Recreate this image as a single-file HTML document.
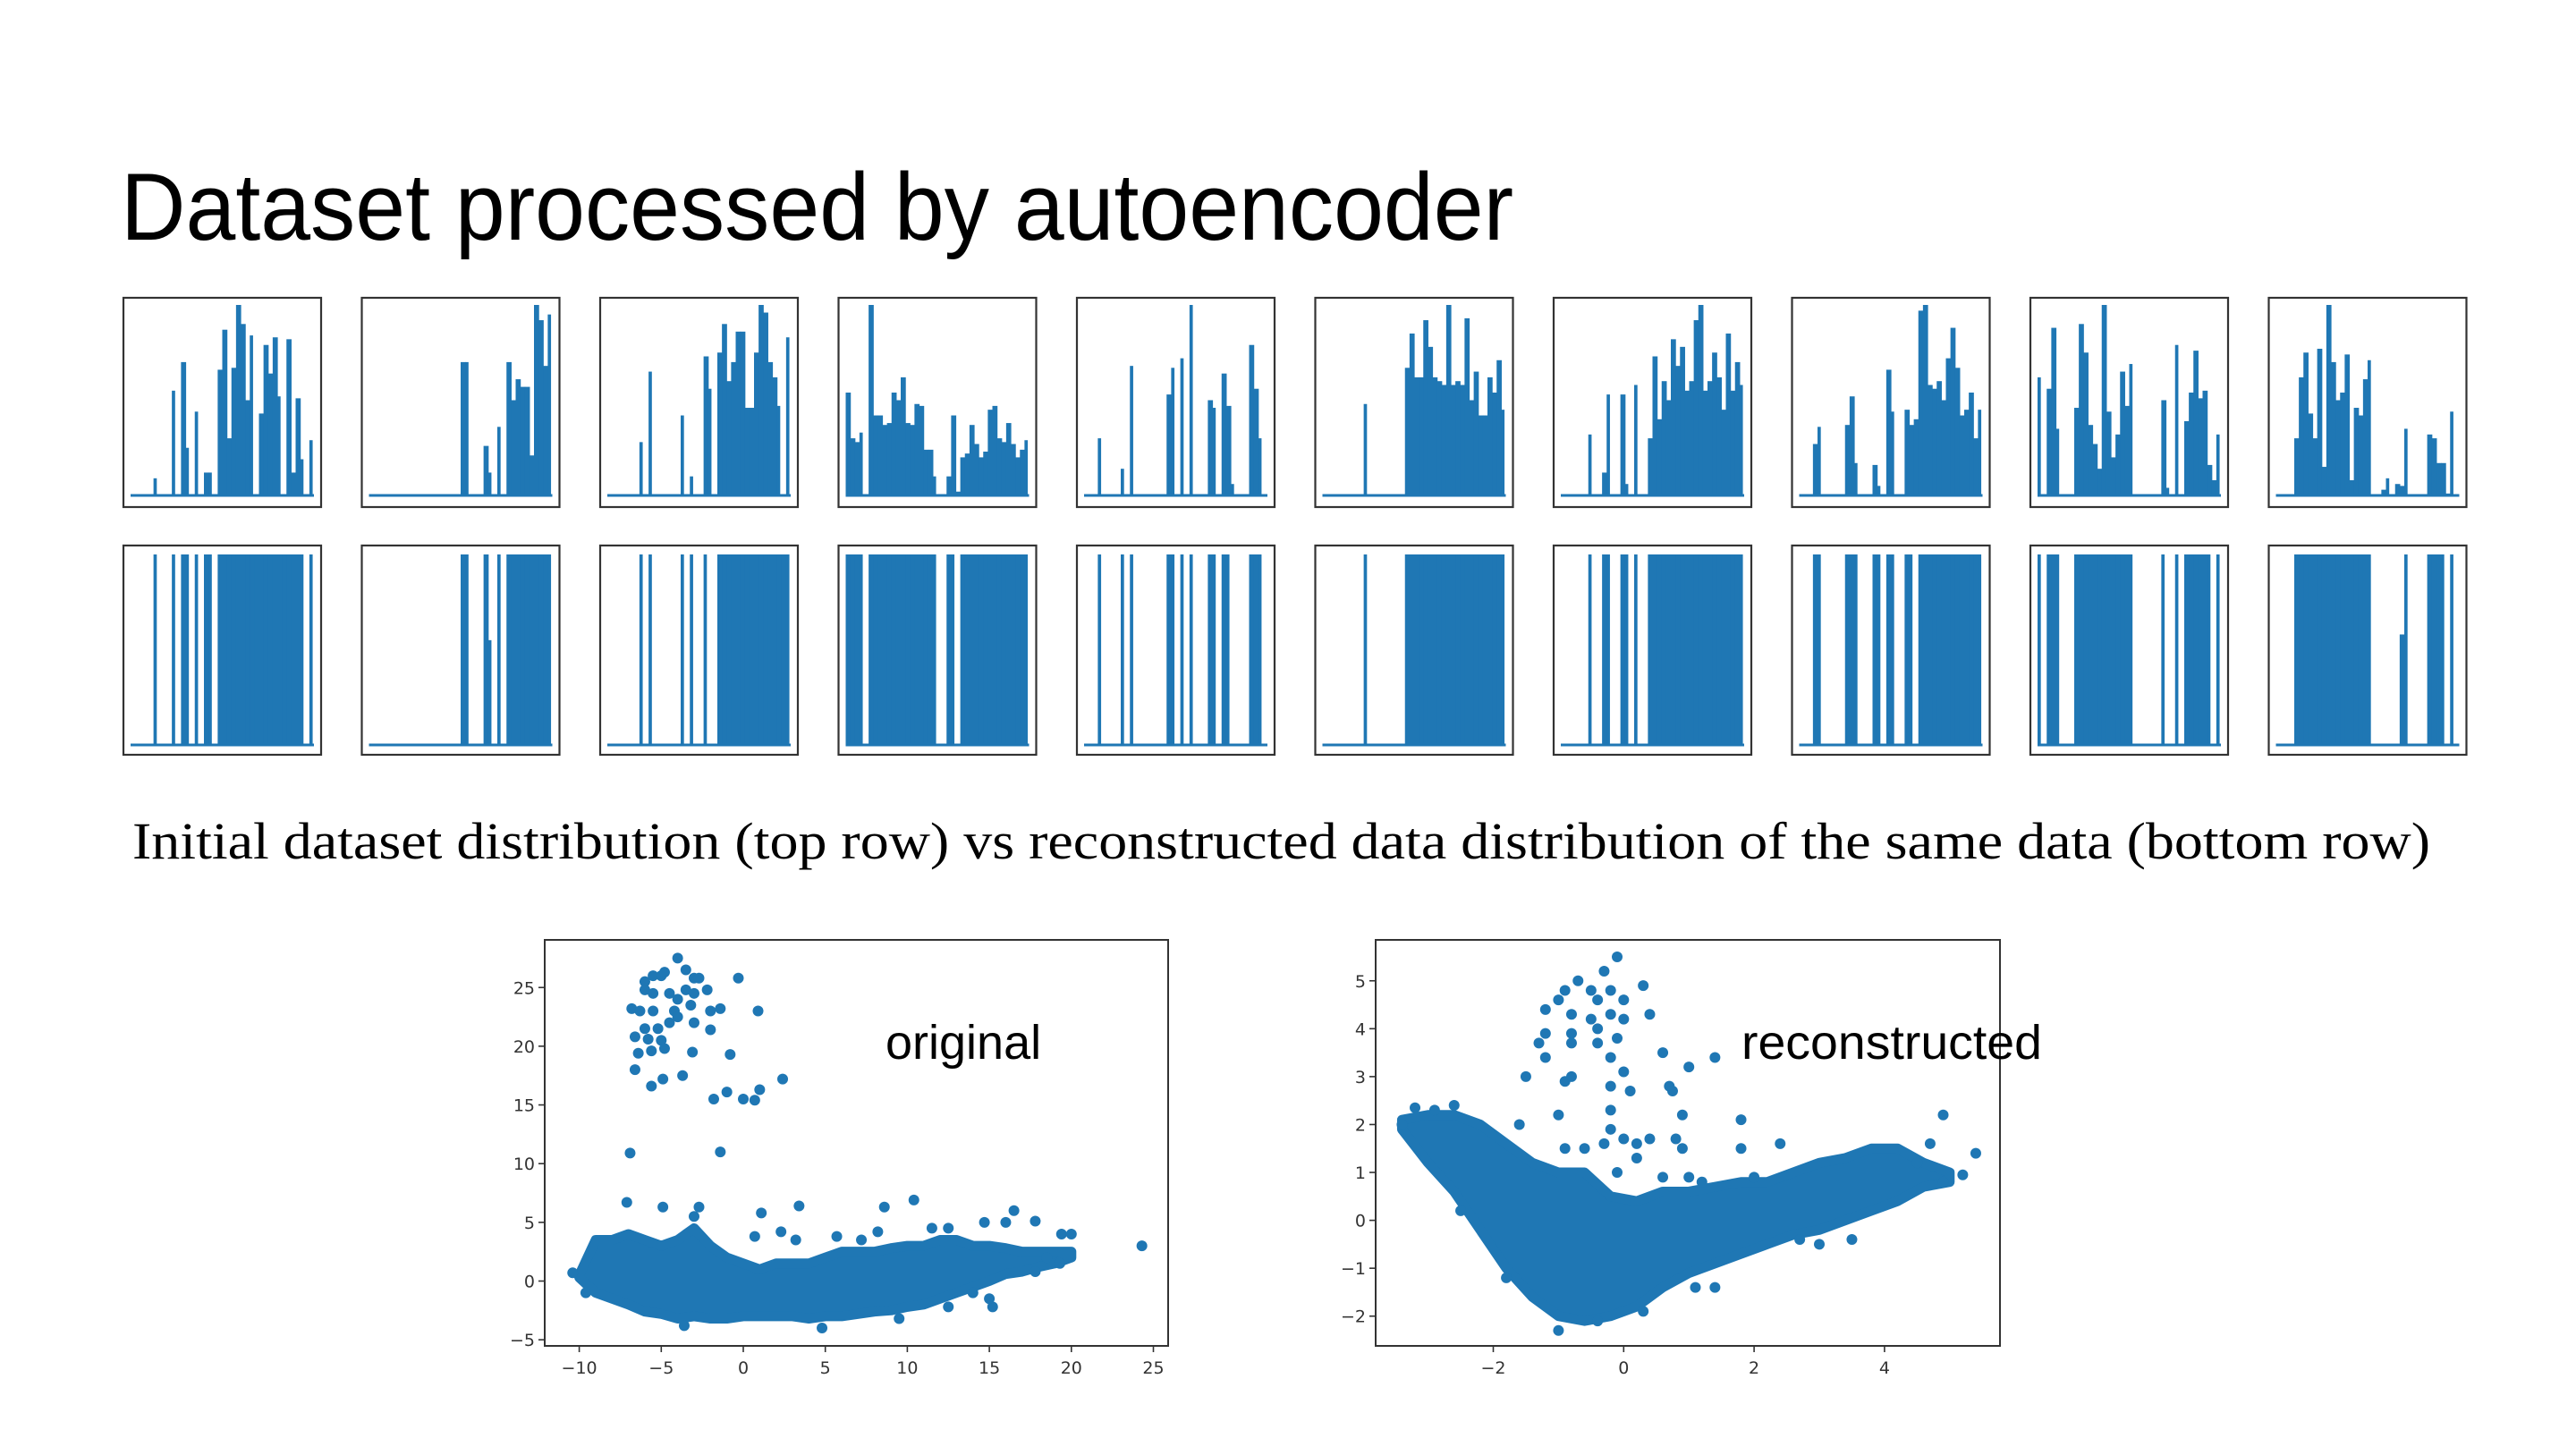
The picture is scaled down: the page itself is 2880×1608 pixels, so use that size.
<!DOCTYPE html>
<html><head><meta charset="utf-8"><style>
html,body{margin:0;padding:0;background:#fff;}
svg{display:block;}
</style></head>
<body>
<svg id="root" width="2880" height="1608" viewBox="0 0 2880 1608" xmlns="http://www.w3.org/2000/svg">
<text x="135" y="268" font-family="Liberation Sans, Arial, sans-serif" font-size="107" textLength="1557" lengthAdjust="spacingAndGlyphs" fill="#000">Dataset processed by autoencoder</text>
<g id="panels"></g>
<text x="148" y="960" font-family="Liberation Serif, 'Times New Roman', serif" font-size="58" textLength="2569" lengthAdjust="spacingAndGlyphs" fill="#000">Initial dataset distribution (top row) vs reconstructed data distribution of the same data (bottom row)</text>
<g id="scatterL"></g>
<g id="scatterR"></g>
<text x="990" y="1184" font-family="Liberation Sans, Arial, sans-serif" font-size="54" fill="#000">original</text>
<text x="1947" y="1184" font-family="Liberation Sans, Arial, sans-serif" font-size="54" textLength="336" lengthAdjust="spacingAndGlyphs" fill="#000">reconstructed</text>
</svg>
<script>
// ---------- top row data (40 bins, relative height) ----------
const top1=[0,0,0,0,0,0.09,0,0,0,0.55,0,0.7,0.25,0,0.44,0,0.12,0.12,0,0.66,0.87,0.3,0.67,1.0,0.9,0.5,0.84,0,0.43,0.79,0.64,0.83,0.52,0,0.82,0.12,0.51,0.19,0,0.29];
const top2=[0,0,0,0,0,0,0,0,0,0,0,0,0,0,0,0,0,0,0,0,0.7,0.7,0,0,0,0.26,0.12,0,0.36,0,0.7,0.5,0.61,0.57,0.57,0.21,1.0,0.92,0.68,0.95];
const top3=[0,0,0,0,0,0,0,0.28,0,0.65,0,0,0,0,0,0,0.42,0,0.1,0,0,0.73,0.56,0,0.75,0.9,0.6,0.7,0.86,0.86,0.46,0.46,0.75,1.0,0.96,0.7,0.62,0.47,0,0.83];
const top4=[0.54,0.3,0.28,0.33,0,1.0,0.42,0.42,0.37,0.38,0.54,0.5,0.62,0.38,0.37,0.48,0.47,0.24,0.24,0.1,0,0,0.1,0.42,0.02,0.2,0.22,0.37,0.27,0.2,0.23,0.45,0.47,0.3,0.28,0.38,0.27,0.2,0.24,0.29];
const top5=[0,0,0,0.3,0,0,0,0,0.14,0,0.68,0,0,0,0,0,0,0,0.53,0.67,0,0.72,0,1.0,0,0,0,0.5,0.46,0,0.64,0.47,0.06,0,0,0,0.79,0.56,0.3,0];
const top6=[0,0,0,0,0,0,0,0,0,0.48,0,0,0,0,0,0,0,0,0.67,0.85,0.62,0.62,0.92,0.78,0.62,0.6,0.58,1.0,0.58,0.6,0.58,0.93,0.5,0.65,0.42,0.42,0.62,0.54,0.71,0.45];
const top7=[0,0,0,0,0,0,0.32,0,0,0.12,0.53,0,0,0.53,0.06,0,0.58,0,0,0.3,0.73,0.4,0.6,0.5,0.82,0.68,0.78,0.55,0.6,0.92,1.0,0.55,0.6,0.75,0.62,0.45,0.85,0.55,0.7,0.58];
const top8=[0,0,0,0.27,0.36,0,0,0,0,0,0.37,0.52,0.17,0,0,0,0.16,0.05,0,0.66,0.44,0,0,0.45,0.37,0.4,0.97,1.0,0.58,0.56,0.6,0.5,0.72,0.88,0.67,0.42,0.45,0.54,0.3,0.45];
const top9=[0.62,0,0.56,0.88,0.35,0,0,0,0.46,0.9,0.75,0.37,0.27,0.14,1.0,0.44,0.2,0.32,0.65,0.47,0.69,0,0,0,0,0,0,0.5,0.04,0,0.79,0,0.39,0.54,0.76,0.51,0.55,0.16,0.08,0.32];
const top10=[0,0,0,0,0.3,0.62,0.75,0.43,0.3,0.77,0.15,1.0,0.7,0.5,0.54,0.74,0.08,0.46,0.42,0.61,0.71,0,0,0.03,0.09,0,0.06,0.05,0.35,0,0,0,0,0.32,0.3,0.17,0.17,0.01,0.44,0];
// ---------- bottom row data (reconstructed, 40 bins) ----------
const bot1=[0,0,0,0,0,1,0,0,0,1,0,1,1,0,1,0,1,1,0,1,1,1,1,1,1,1,1,1,1,1,1,1,1,1,1,1,1,1,0,1];
const bot2=[0,0,0,0,0,0,0,0,0,0,0,0,0,0,0,0,0,0,0,0,1,1,0,0,0,1,0.55,0,1,0,1,1,1,1,1,1,1,1,1,1];
const bot3=[0,0,0,0,0,0,0,1,0,1,0,0,0,0,0,0,1,0,1,0,0,1,0,0,1,1,1,1,1,1,1,1,1,1,1,1,1,1,1,1];
const bot4=[1,1,1,1,0,1,1,1,1,1,1,1,1,1,1,1,1,1,1,1,0,0,1,1,0,1,1,1,1,1,1,1,1,1,1,1,1,1,1,1];
const bot5=[0,0,0,1,0,0,0,0,1,0,1,0,0,0,0,0,0,0,1,1,0,1,0,1,0,0,0,1,1,0,1,1,0,0,0,0,1,1,1,0];
const bot6=[0,0,0,0,0,0,0,0,0,1,0,0,0,0,0,0,0,0,1,1,1,1,1,1,1,1,1,1,1,1,1,1,1,1,1,1,1,1,1,1];
const bot7=[0,0,0,0,0,0,1,0,0,1,1,0,0,1,1,0,1,0,0,1,1,1,1,1,1,1,1,1,1,1,1,1,1,1,1,1,1,1,1,1];
const bot8=[0,0,0,1,1,0,0,0,0,0,1,1,1,0,0,0,1,1,0,1,1,0,0,1,1,0,1,1,1,1,1,1,1,1,1,1,1,1,1,1];
const bot9=[1,0,1,1,1,0,0,0,1,1,1,1,1,1,1,1,1,1,1,1,1,0,0,0,0,0,0,1,0,0,1,0,1,1,1,1,1,1,0,1];
const bot10=[0,0,0,0,1,1,1,1,1,1,1,1,1,1,1,1,1,1,1,1,1,0,0,0,0,0,0,0.58,1,0,0,0,0,1,1,1,1,0,1,0];

const topRows=[top1,top2,top3,top4,top5,top6,top7,top8,top9,top10];
const botRows=[bot1,bot2,bot3,bot4,bot5,bot6,bot7,bot8,bot9,bot10];

// ---------- scatter: original ----------
const origXTicks=[-10,-5,0,5,10,15,20,25];
const origYTicks=[-5,0,5,10,15,20,25];
const origBandX=[-10,-9,-8,-7,-6,-5,-4,-3,-2,-1,0,1,2,3,4,5,6,7,8,9,10,11,12,13,14,15,16,17,18,19,20];
const origBandLo=[0.3,-1,-1.5,-2,-2.6,-2.8,-3.2,-3,-3.2,-3.2,-3,-3,-3,-3,-3.2,-3,-3,-2.8,-2.6,-2.5,-2.2,-2,-1.5,-1,-0.5,0,0.6,0.8,1.2,1.5,2];
const origBandHi=[0.5,3.5,3.5,4,3.5,3,3.5,4.5,3,2,1.5,1,1.5,1.5,1.5,2,2.5,2.5,2.5,2.8,3,3,3.5,3.5,3,3,2.8,2.5,2.5,2.5,2.5];
const origPtsX=[-4,-3.5,-5.5,-5,-4.8,-6,-3,-2.7,-0.3,-6,-5.5,-4.5,-4,-3.5,-3,-2.2,-3.2,-4.2,-6.8,-6.3,-5.5,-2,-1.4,0.9,-4,-4.5,-3,-6,-5.2,-6.6,-5.8,-5,-2,-6.4,-5.6,-4.8,-3.1,-0.8,-6.6,-3.7,-4.9,-5.6,2.4,-1.8,-1,0,0.7,1,-6.9,-1.4,-7.1,-4.9,-2.7,-3,1.1,3.4,8.6,10.4,16.5,14.7,16,17.8,19.4,20,24.3,15.2,11.5,12.5,8.2,5.7,7.2,0.7,2.3,3.2,-10.4,-9.6,9.5,4.8,-3.6,19.3,17.8,18.5,15,14,12.5];
const origPtsY=[27.5,26.5,26,26,26.3,25.5,25.8,25.8,25.8,24.8,24.5,24.5,24,24.8,24.5,24.8,23.5,23,23.2,23,23,23,23.2,23,22.5,22,22,21.5,21.5,20.8,20.6,20.5,21.4,19.4,19.6,19.8,19.5,19.3,18,17.5,17.2,16.6,17.2,15.5,16.1,15.5,15.4,16.3,10.9,11,6.7,6.3,6.3,5.5,5.8,6.4,6.3,6.9,6,5,5,5.1,4,4,3,-2.2,4.5,4.5,4.2,3.8,3.5,3.8,4.2,3.5,0.7,-1,-3.2,-4,-3.8,1.5,0.8,2,-1.5,-1,-2.2];

// ---------- scatter: reconstructed ----------
const recXTicks=[-2,0,2,4];
const recYTicks=[-2,-1,0,1,2,3,4,5];
const recBandX=[-3.4,-3,-2.6,-2.2,-1.8,-1.4,-1,-0.6,-0.2,0.2,0.6,1,1.4,1.8,2.2,2.6,3,3.4,3.8,4.2,4.6,5.0];
const recBandLo=[1.9,1.2,0.6,-0.2,-1,-1.6,-2,-2.1,-2,-1.8,-1.4,-1.1,-0.9,-0.7,-0.5,-0.3,-0.2,0,0.2,0.4,0.7,0.8];
const recBandHi=[2.1,2.2,2.2,2,1.6,1.2,1,1,0.5,0.4,0.6,0.6,0.7,0.8,0.8,1,1.2,1.3,1.5,1.5,1.2,1.0];
const recPtsX=[-0.1,-0.3,-0.7,-0.9,-0.5,-0.2,0.3,-1,-0.4,0,-1.2,-0.8,-0.5,-0.2,0,0.4,-0.4,-1.2,-1.3,-1.2,-0.8,-0.8,-0.4,-0.1,-0.2,0.6,1.4,1,0,-1.5,-0.9,-0.8,-0.2,0.1,0.7,0.75,-0.2,-1.0,0.9,1.8,4.9,-1.6,-0.2,-0.3,0,0.2,0.4,0.8,0.9,1.8,2.4,-0.9,-0.6,0.2,-0.1,0.6,1,1.2,2,5.4,5.2,4.9,4.7,4.5,-2.5,3.5,-1,-0.4,0.3,1.1,1.4,-1.8,2.7,3,-3.4,-3.2,-2.9,-2.6];
const recPtsY=[5.5,5.2,5,4.8,4.8,4.8,4.9,4.6,4.6,4.6,4.4,4.3,4.2,4.3,4.2,4.3,4.0,3.9,3.7,3.4,3.9,3.7,3.7,3.8,3.4,3.5,3.4,3.2,3.1,3,2.9,3,2.8,2.7,2.8,2.7,2.3,2.2,2.2,2.1,2.2,2,1.9,1.6,1.7,1.6,1.7,1.7,1.5,1.5,1.6,1.5,1.5,1.3,1,0.9,0.9,0.8,0.9,1.4,0.95,0.8,1.6,1.2,0.2,-0.4,-2.3,-2.1,-1.9,-1.4,-1.4,-1.2,-0.4,-0.5,2.0,2.35,2.3,2.4];

const NS='http://www.w3.org/2000/svg';
const BLUE='#1f77b4';
function mk(tag,attrs,parent){const e=document.createElementNS(NS,tag);for(const k in attrs)e.setAttribute(k,attrs[k]);parent.appendChild(e);return e;}

// ---------- small panels ----------
const panels=document.getElementById('panels');
const panelX0=138, panelPitch=266.5, panelW=221;
function drawPanel(vals,px,top,bottom,base,peak,idx,row){
  const g=mk('g',{},panels);
  
  
  const x0=px+8, x1=px+panelW-8, bw=(x1-x0)/vals.length;
  const xs=i=>x0+i*bw;
  const ys=v=>base-v*(base-peak);
  vals.forEach((v,i)=>{
    if(v<=0)return;
    const merge=(i+1<vals.length&&vals[i+1]>0);
    const w=merge?bw+0.6:bw*0.72;
    const r=mk('rect',{x:xs(i),y:ys(v),width:w,height:base-ys(v),fill:BLUE},g);
    
    
  });
  const bl=mk('line',{x1:x0,y1:base,x2:x1,y2:base,stroke:BLUE,'stroke-width':3},g);
  
  
  const fr=mk('rect',{x:px,y:top,width:panelW,height:bottom-top,fill:'none',stroke:'#333','stroke-width':2.2},g);
  
  
}
topRows.forEach((v,i)=>drawPanel(v,panelX0+i*panelPitch,333,567,554,341,i,'top'));
botRows.forEach((v,i)=>drawPanel(v,panelX0+i*panelPitch,610,844,833,620,i,'bottom'));

// ---------- scatter plots ----------
function drawScatter(gid,box,xs,ys,xt,yt,bx,blo,bhi,px,py){
  const g=document.getElementById(gid);
  let pts=[];
  bx.forEach((x,i)=>pts.push(xs(x)+','+ys(bhi[i])));
  for(let i=bx.length-1;i>=0;i--)pts.push(xs(bx[i])+','+ys(blo[i]));
  const poly=mk('polygon',{points:pts.join(' '),fill:BLUE,stroke:BLUE,'stroke-width':11,'stroke-linejoin':'round'},g);
  
  
  px.forEach((x,i)=>{
    const c=mk('circle',{cx:xs(x),cy:ys(py[i]),r:6,fill:BLUE},g);
    
    
  });
  const fr=mk('rect',{x:box.l,y:box.t,width:box.r-box.l,height:box.b-box.t,fill:'none',stroke:'#333','stroke-width':2},g);
  
  
  xt.forEach(v=>{
    const x=xs(v);
    const t=mk('line',{x1:x,y1:box.b,x2:x,y2:box.b+7,stroke:'#333','stroke-width':1.6},g);
    
    
    const tx=mk('text',{x:x,y:box.b+31,'text-anchor':'middle','font-family':'DejaVu Sans, sans-serif','font-size':19,fill:'#333'},g);
    tx.textContent=String(v).replace('-','\u2212');
    
    
  });
  yt.forEach(v=>{
    const y=ys(v);
    const t=mk('line',{x1:box.l-7,y1:y,x2:box.l,y2:y,stroke:'#333','stroke-width':1.6},g);
    
    
    const tx=mk('text',{x:box.l-11,y:y+7,'text-anchor':'end','font-family':'DejaVu Sans, sans-serif','font-size':19,fill:'#333'},g);
    tx.textContent=String(v).replace('-','\u2212');
    
    
  });
}
const boxL={l:609,r:1306,t:1051,b:1505};
drawScatter('scatterL',boxL,x=>831+x*18.34,y=>1432.5-y*13.13,origXTicks,origYTicks,origBandX,origBandLo,origBandHi,origPtsX,origPtsY);
const boxR={l:1538,r:2236,t:1051,b:1505};
drawScatter('scatterR',boxR,x=>1815.3+x*72.9,y=>1364.6-y*53.57,recXTicks,recYTicks,recBandX,recBandLo,recBandHi,recPtsX,recPtsY);
</script>
</body></html>
